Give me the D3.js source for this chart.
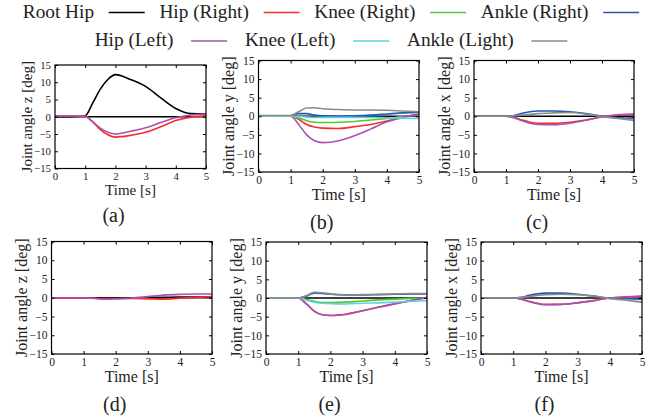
<!DOCTYPE html>
<html>
<head>
<meta charset="utf-8">
<script src="https://cdn.jsdelivr.net/npm/d3@7"></script>
<style>
  html, body { margin: 0; padding: 0; background: #fff; }
  svg text { font-family: "Liberation Serif", "DejaVu Serif", serif; }
  .axis line { stroke: #000; }
</style>
</head>
<body>
<div id="chart"></div>
<script>
const seriesNames = ["Root Hip", "Hip (Right)", "Knee (Right)", "Ankle (Right)", "Hip (Left)", "Knee (Left)", "Ankle (Light)"];
const seriesKeys = ["rootHip", "hipR", "kneeR", "ankleR", "hipL", "kneeL", "ankleL"];
const seriesColors = ["#000000", "#ff2a2a", "#4fc92e", "#2456b8", "#a452b4", "#62d2dc", "#8a8a8a"];

const time = [0, 0.5, 1, 1.25, 1.5, 1.75, 2, 2.5, 3, 3.5, 4, 4.5, 5];
const xTicks = [0, 1, 2, 3, 4, 5];
const yTicks = [-15, -10, -5, 0, 5, 10, 15];

// (a) right leg, z
const rightZ = {
  rootHip: [0, 0, 0.3, 4, 8, 10.8, 12.2, 10.8, 8.8, 5.5, 2.4, 0.9, 0.8],
  hipR: [0.2, 0.2, 0.1, -1.5, -3.7, -5.2, -5.9, -5.4, -4.5, -2.9, -1.1, -0.1, 0.25],
  hipL: [0.2, 0.2, 0.1, -1.5, -3.3, -4.5, -5.0, -4.2, -3.2, -1.7, -0.3, 0.5, 0.8],
};
// (b) right leg, y
const rightY = {
  hipR: [0, 0, 0, -0.8, -2.2, -2.9, -3.2, -3.3, -2.8, -2.2, -1.3, -0.2, 0.5],
  kneeR: [0, 0, 0, -0.5, -1.2, -1.6, -1.7, -1.6, -1.4, -1.0, -0.6, -0.1, 0.3],
  ankleR: [0, 0, 0.1, 0.7, 0.7, 0.3, 0.1, 0.0, 0.1, 0.3, 0.6, 0.9, 1.0],
  hipL: [0, 0, 0, -2.2, -5, -6.6, -7.1, -6.6, -5.2, -3.4, -1.5, -0.3, 0.5],
  kneeL: [0, 0, 0, -0.1, -0.2, -0.3, -0.3, -0.3, -0.3, -0.3, -0.4, -0.5, -0.6],
  ankleL: [0.2, 0.2, 0.2, 1.2, 2.2, 2.3, 2.0, 1.8, 1.7, 1.7, 1.6, 1.4, 1.2],
};
// (c) right leg, x
const rightX = {
  hipR: [0, 0, 0, -0.3, -1.0, -1.6, -1.9, -1.9, -1.6, -1.0, -0.2, 0.3, 0.5],
  ankleR: [0, 0, 0, 0.2, 0.8, 1.2, 1.4, 1.4, 1.2, 0.7, 0.0, -0.4, -0.5],
  hipL: [0, 0, 0, -0.4, -1.2, -1.9, -2.2, -2.3, -1.9, -1.1, -0.1, 0.4, 0.6],
  ankleL: [0, 0, 0, 0.1, 0.3, 0.5, 0.7, 0.9, 1.0, 0.6, -0.1, -0.6, -1.1],
};
// (d) left leg, z
const leftZ = {
  rootHip: [0, 0, 0, 0, 0, -0.1, -0.1, -0.1, 0, 0.1, 0.2, 0.2, 0.2],
  hipR: [-0.1, -0.1, -0.1, -0.1, -0.2, -0.2, -0.2, -0.2, -0.3, -0.4, -0.1, 0.1, 0.3],
  hipL: [0, 0, 0, -0.1, -0.3, -0.4, -0.3, -0.1, 0.3, 0.7, 0.9, 1.0, 1.0],
};
// (e) left leg, y
const leftY = {
  hipR: [0, 0, 0, -1.5, -3.5, -4.5, -4.7, -4.3, -3.4, -2.5, -1.6, -0.7, 0.2],
  kneeR: [0, 0, 0, -0.4, -0.9, -1.2, -1.2, -1.1, -0.8, -0.5, -0.3, -0.1, 0],
  ankleR: [0, 0, 0, 0.5, 1.3, 1.2, 1.0, 0.8, 0.8, 0.9, 1.0, 1.1, 1.1],
  hipL: [0, 0, 0, -1.6, -3.6, -4.5, -4.7, -4.4, -3.4, -2.4, -1.5, -0.7, 0.1],
  kneeL: [0, 0, 0, -0.6, -1.1, -1.4, -1.5, -1.6, -1.4, -1.3, -1.1, -0.9, -0.7],
  ankleL: [0, 0, 0, 0.6, 1.5, 1.4, 1.1, 0.8, 0.9, 1.0, 1.1, 1.2, 1.2],
};
// (f) left leg, x
const leftX = {
  hipR: [0, 0, 0, -0.3, -0.9, -1.4, -1.7, -1.7, -1.3, -0.7, 0.0, 0.3, 0.5],
  ankleR: [0, 0, 0, 0.2, 0.7, 1.1, 1.3, 1.3, 1.0, 0.5, -0.1, -0.2, -0.3],
  hipL: [0, 0, 0, -0.3, -1.0, -1.5, -1.8, -1.7, -1.3, -0.7, 0.0, 0.2, 0.4],
  ankleL: [0, 0, 0, 0.1, 0.4, 0.7, 0.9, 1.0, 0.9, 0.5, -0.1, -0.6, -1.1],
};

const W = 662, H = 420;
const FONT = "Liberation Serif";
const svg = d3.select("#chart").append("svg").attr("width", W).attr("height", H)
  .attr("font-family", FONT);

// legend, two centred rows
const legendRows = [[0, 1, 2, 3], [4, 5, 6]];
const legendBase = [17.5, 46];
const legendGap = [14.7, 17.8];
legendRows.forEach((row, r) => {
  const g = svg.append("g");
  const gap = legendGap[r];
  let cx = 0;
  row.forEach((i) => {
    const t = g.append("text").attr("x", cx).attr("y", legendBase[r])
      .attr("font-family", FONT).attr("font-size", 19.3).attr("fill", "#222").text(seriesNames[i]);
    cx += t.node().getComputedTextLength() + gap;
    g.append("line").attr("x1", cx).attr("x2", cx + 36)
      .attr("y1", legendBase[r] - 5).attr("y2", legendBase[r] - 5)
      .attr("stroke", seriesColors[i]).attr("stroke-width", 1.6);
    cx += 36 + gap;
  });
  cx -= gap;
  g.attr("transform", `translate(${331 - cx / 2},0)`);
});

const panels = [
  { data: rightZ, label: "Joint angle z [deg]", cap: "(a)", x0: 55, x1: 206, y0: 65, y1: 168.5, s: 0.94 },
  { data: rightY, label: "Joint angle y [deg]", cap: "(b)", x0: 258.5, x1: 419, y0: 60.5, y1: 172, s: 1 },
  { data: rightX, label: "Joint angle x [deg]", cap: "(c)", x0: 474, x1: 634, y0: 60.5, y1: 172, s: 1 },
  { data: leftZ, label: "Joint angle z [deg]", cap: "(d)", x0: 51.5, x1: 212, y0: 241.5, y1: 354, s: 1 },
  { data: leftY, label: "Joint angle y [deg]", cap: "(e)", x0: 266, x1: 427, y0: 242, y1: 354, s: 1 },
  { data: leftX, label: "Joint angle x [deg]", cap: "(f)", x0: 481, x1: 642, y0: 242, y1: 354, s: 1 },
];

panels.forEach((p) => {
  const x = d3.scaleLinear().domain([0, 5]).range([p.x0, p.x1]);
  const y = d3.scaleLinear().domain([-15, 15]).range([p.y1, p.y0]);
  const g = svg.append("g");
  const fs = 11.5 * p.s;

  // zero reference
  g.append("line").attr("x1", x(0)).attr("x2", x(5)).attr("y1", y(0)).attr("y2", y(0))
    .attr("stroke", "#000").attr("stroke-width", 1.3);

  const line = d3.line().x((d, i) => x(time[i])).y((d) => y(d)).curve(d3.curveMonotoneX);
  seriesKeys.forEach((k, i) => {
    if (!p.data[k]) return;
    g.append("path").datum(p.data[k]).attr("d", line)
      .attr("fill", "none").attr("stroke", seriesColors[i]).attr("stroke-width", 1.6);
  });

  const mk = (axis, tr, labels) => {
    const a = g.append("g").attr("class", "axis").attr("transform", tr)
      .call(axis.tickSize(-3).tickPadding(labels ? 4 : 0).tickFormat(labels ? d3.format("d") : ""));
    a.attr("font-family", FONT).attr("font-size", fs);
    a.select(".domain").remove();
    a.selectAll("text").attr("fill", "#222");
  };
  mk(d3.axisLeft(y).tickValues(yTicks), `translate(${p.x0},0)`, true);
  mk(d3.axisRight(y).tickValues(yTicks), `translate(${p.x1},0)`, false);
  mk(d3.axisBottom(x).tickValues(xTicks), `translate(0,${p.y1})`, true);
  mk(d3.axisTop(x).tickValues(xTicks), `translate(0,${p.y0})`, false);

  g.append("rect").attr("x", p.x0).attr("y", p.y0)
    .attr("width", p.x1 - p.x0).attr("height", p.y1 - p.y0)
    .attr("fill", "none").attr("stroke", "#000").attr("stroke-width", 1.2);

  const cy = (p.y0 + p.y1) / 2;
  g.append("text").attr("transform", `translate(${p.x0 - 30 * p.s},${cy}) rotate(-90)`)
    .attr("text-anchor", "middle").attr("dominant-baseline", "central")
    .attr("font-family", FONT).attr("font-size", 16 * p.s).attr("fill", "#222").text(p.label);
  g.append("text").attr("x", (p.x0 + p.x1) / 2).attr("y", p.y1 + 28 * p.s)
    .attr("text-anchor", "middle").attr("font-family", FONT)
    .attr("font-size", 16 * p.s).attr("fill", "#222").text("Time [s]");
  g.append("text").attr("x", (p.x0 + p.x1) / 2 - 17).attr("y", p.y1 + 57 * p.s)
    .attr("text-anchor", "middle").attr("font-family", FONT)
    .attr("font-size", 20).attr("fill", "#222").text(p.cap);
});
</script>
</body>
</html>
